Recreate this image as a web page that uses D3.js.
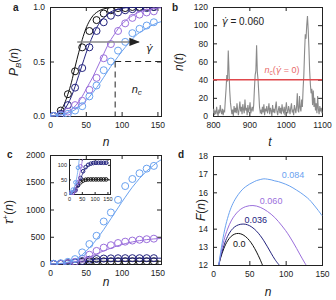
<!doctype html>
<html>
<head>
<meta charset="utf-8">
<script src="https://cdn.jsdelivr.net/npm/d3@7"></script>
<style>
body { margin: 0; background: #fff; }
text { font-family: "Liberation Sans", Arial, sans-serif; fill: #222; }
.gd { font-family: "DejaVu Sans", sans-serif; }
</style>
</head>
<body>
<svg width="336" height="300"></svg>
<script>
// ---- data ----
var nGrid = [0,5,10,15,20,25,30,35,40,45,50,55,60,65,70,75,80,85,90,95,100,105,110,115,120,125,130,135,140,145,150,155];
var nDots = [5,15,25,35,45,55,65,75,85,95,105,115,125,135,145];

// panel a: P_B(n)
var pFitBlack  = [0,0.003,0.015,0.05,0.11,0.2,0.31,0.45,0.58,0.7,0.8,0.87,0.92,0.95,0.97,0.983,0.99,0.995,0.997,0.998,0.999,1,1,1,1,1,1,1,1,1,1,1];
var pFitNavy   = [0,0.002,0.01,0.03,0.06,0.11,0.18,0.27,0.37,0.47,0.57,0.66,0.74,0.81,0.86,0.9,0.93,0.955,0.97,0.98,0.987,0.992,0.995,0.997,0.998,0.999,1,1,1,1,1,1];
var pFitPurple = [0,0.001,0.004,0.01,0.02,0.035,0.06,0.09,0.13,0.18,0.24,0.3,0.36,0.43,0.5,0.57,0.64,0.7,0.75,0.8,0.84,0.87,0.9,0.92,0.94,0.955,0.965,0.975,0.98,0.985,0.99,0.992];
var pFitBlue   = [0,0.001,0.004,0.009,0.016,0.026,0.04,0.058,0.08,0.107,0.14,0.175,0.215,0.26,0.305,0.355,0.405,0.455,0.5,0.545,0.59,0.63,0.67,0.705,0.74,0.765,0.785,0.805,0.825,0.84,0.855,0.865];
var pDotBlack  = [0,0.05,0.2,0.41,0.63,0.78,0.88,0.94,0.97,0.99,0.99,1,1,1,1];
var pDotNavy   = [0,0.02,0.1,0.26,0.44,0.63,0.78,0.86,0.92,0.95,0.97,0.98,0.99,0.99,1];
var pDotPurple = [0,0.01,0.04,0.1,0.14,0.24,0.35,0.53,0.66,0.78,0.85,0.9,0.93,0.95,0.96];
var pDotBlue   = [0,0.005,0.02,0.05,0.09,0.18,0.28,0.42,0.5,0.6,0.68,0.76,0.8,0.83,0.86];

// panel b: n(t), t = 800..1100 every 2
var tStart = 800, tStep = 2;
var nOfT = [3,8,1,6,2,10,4,0,7,3,12,5,2,8,1,6,
  5,18,30,45,38,72,50,28,15,8,
  2,7,0,11,4,9,3,14,6,1,8,16,5,10,2,13,7,3,18,6,9,1,12,4,8,15,3,7,10,5,
  12,30,45,50,78,48,40,25,10,4,
  6,2,10,4,13,1,8,5,11,3,7,14,2,9,6,0,12,4,8,3,10,16,5,1,7,11,3,9,2,13,6,4,10,1,8,15,5,3,11,7,2,9,14,4,6,1,12,8,3,10,25,6,4,22,9,
  5,18,10,30,45,70,90,85,100,110,95,75,50,35,25,30,12,28,10,20,
  6,14,3,22,8,2,11,5,9,3];
var ncZero = 40;

// panel c: tau+(n)
var tFitBlack  = [0,0.5,2,5,10,16,23,30,36,41,45,47.5,49,50,50,50,50,50,50,50,50,50,50,50,50,50,50,50,50,50,50,50];
var tFitNavy   = [0,0,1,3,7,12,20,29,40,52,63,73,82,89,94,98,101,103,104.5,105.5,106,106.5,106.5,106.5,106.5,106.5,106.5,106.5,106.5,106.5,106.5,106.5];
var tFitPurple = [0,1,3,6,12,20,31,45,62,82,105,130,157,185,213,240,266,291,314,336,356,374,390,405,418,429,439,447,454,460,465,469];
var tFitBlue   = [0,2,5,12,22,36,55,82,120,170,230,298,370,450,540,632,730,830,930,1030,1130,1225,1320,1410,1490,1570,1640,1705,1760,1815,1870,1910];
var tDotBlack  = [0,4,15,30,40,46,49,50,50,50,50,50,50,50,50];
var tDotNavy   = [0,3,12,30,55,78,92,100,104,106,107,107,107,107,107];
var tDotPurple = [0,4,15,40,95,170,240,300,345,385,410,430,445,455,465];
var tDotBlue   = [5,15,40,90,213,366,518,780,945,1177,1430,1560,1665,1750,1800];

// panel d: F(n)
var fNBlack = [8,10,15,20,25,30,35,40,45,50,55,60,65,68];
var fBlack  = [12,12.35,12.95,13.35,13.6,13.72,13.75,13.7,13.57,13.37,13.08,12.72,12.3,12];
var fNNavy  = [8,10,15,20,25,30,35,40,45,50,55,60,65,70,75,80,85,90,91];
var fNavy   = [12,12.4,13.1,13.6,13.92,14.12,14.22,14.26,14.25,14.18,14.05,13.87,13.63,13.34,13,12.65,12.3,12.05,12];
var fNPurple = [8,10,15,20,25,30,35,40,45,50,55,60,65,70,75,80,85,90,95,100,105,110,115,120,125,128];
var fPurple  = [12,12.5,13.4,14,14.45,14.75,14.98,15.13,15.22,15.27,15.28,15.25,15.18,15.08,14.95,14.8,14.62,14.4,14.15,13.9,13.6,13.27,12.92,12.55,12.2,12];
var fNBlue = [8,10,15,20,25,30,35,40,45,50,55,60,65,70,75,80,85,90,95,100,105,110,115,120,125,130,135,140,145,150];
var fBlue  = [12,12.6,13.8,14.6,15.2,15.6,15.9,16.15,16.32,16.45,16.55,16.66,16.7,16.76,16.72,16.7,16.62,16.6,16.52,16.45,16.36,16.25,16.12,16.0,15.85,15.7,15.5,15.25,15.0,14.72];
var dLabels = ["0.0", "0.036", "0.060", "0.084"];

var cBlack = "#111111", cNavy = "#23237e", cPurple = "#9b6fdc", cBlue = "#6aa2f0";

var svg = d3.select("svg");
var intFmt = d3.format("d");

function panel(x, y, xt, yt, xf, yf, fs) {
    var g = svg.append("g");
    var x0 = x.range()[0], x1 = x.range()[1], y0 = y.range()[0], y1 = y.range()[1];
    fs = fs || 8.5;
    g.append("rect").attr("x", x0 + 0.5).attr("y", y1 + 0.5)
        .attr("width", x1 - x0).attr("height", y0 - y1)
        .attr("fill", "#fff").attr("stroke", "#222");
    var ax = [
        g.append("g").attr("transform", "translate(0," + y0 + ")")
            .call(d3.axisBottom(x).tickValues(xt).tickSizeInner(-4).tickSizeOuter(0).tickPadding(6).tickFormat(xf || intFmt)),
        g.append("g").attr("transform", "translate(0," + y1 + ")")
            .call(d3.axisTop(x).tickValues(xt).tickSizeInner(-4).tickSizeOuter(0).tickFormat("")),
        g.append("g").attr("transform", "translate(" + x0 + ",0)")
            .call(d3.axisLeft(y).tickValues(yt).tickSizeInner(-4).tickSizeOuter(0).tickPadding(5).tickFormat(yf || intFmt)),
        g.append("g").attr("transform", "translate(" + x1 + ",0)")
            .call(d3.axisRight(y).tickValues(yt).tickSizeInner(-4).tickSizeOuter(0).tickFormat(""))
    ];
    ax.forEach(function(a) {
        a.select(".domain").remove();
        a.selectAll(".tick line").attr("stroke", "#222");
        a.selectAll(".tick text").attr("font-size", fs).style("fill", "#222");
    });
    return g;
}

function clip(id, x, y) {
    svg.append("clipPath").attr("id", id).append("rect")
        .attr("x", x.range()[0]).attr("y", y.range()[1])
        .attr("width", x.range()[1] - x.range()[0] + 1).attr("height", y.range()[0] - y.range()[1] + 1);
}

function curve(g, x, y, xs, ys, col, w) {
    g.append("path").datum(xs.map(function(d, i) { return [d, ys[i]]; }))
        .attr("fill", "none").attr("stroke", col).attr("stroke-width", w || 1)
        .attr("d", d3.line().x(function(d) { return x(d[0]); }).y(function(d) { return y(d[1]); }).curve(d3.curveMonotoneX));
}

function dots(g, x, y, xs, ys, col, r) {
    g.selectAll(null).data(xs).enter().append("circle")
        .attr("cx", function(d) { return x(d); })
        .attr("cy", function(d, i) { return y(ys[i]); })
        .attr("r", r || 3.5)
        .attr("fill", "none").attr("stroke", col).attr("stroke-width", 1);
}

function label(txt, x, y) {
    svg.append("text").attr("x", x).attr("y", y).attr("font-size", 10)
        .attr("font-weight", "bold").text(txt);
}

function ylab(html, x, y) {
    svg.append("text").attr("transform", "translate(" + x + "," + y + ") rotate(-90)")
        .attr("text-anchor", "middle").attr("font-size", 12).html(html);
}

function xlab(html, x, y) {
    svg.append("text").attr("x", x).attr("y", y).attr("text-anchor", "middle")
        .attr("font-size", 12).attr("font-style", "italic").html(html);
}

var gdot = '<tspan class="gd" font-style="italic">\u03b3\u0307</tspan>';

// ---------- a ----------
var xa = d3.scaleLinear().domain([0, 155]).range([50, 161]);
var ya = d3.scaleLinear().domain([0, 1]).range([116, 7]);
var ga = panel(xa, ya, [0, 50, 100, 150], [0, 0.5, 1], null, d3.format(".1f"));
clip("ca", xa, ya);
var pa = ga.append("g").attr("clip-path", "url(#ca)");
[[pFitBlack, pDotBlack, cBlack], [pFitNavy, pDotNavy, cNavy], [pFitPurple, pDotPurple, cPurple], [pFitBlue, pDotBlue, cBlue]]
    .forEach(function(s) {
        curve(pa, xa, ya, nGrid, s[0], s[2]);
        dots(pa, xa, ya, nDots, s[1], s[2]);
    });
pa.append("line").attr("x1", xa(91)).attr("x2", xa(155)).attr("y1", ya(0.5)).attr("y2", ya(0.5))
    .attr("stroke", "#222").attr("stroke-dasharray", "6,4");
pa.append("line").attr("x1", xa(91)).attr("x2", xa(91)).attr("y1", ya(0.5)).attr("y2", ya(0))
    .attr("stroke", "#222").attr("stroke-dasharray", "6,4");
svg.append("defs").append("marker").attr("id", "arr").attr("viewBox", "0 0 10 10")
    .attr("refX", 9).attr("refY", 5).attr("markerWidth", 7).attr("markerHeight", 7).attr("orient", "auto")
    .append("path").attr("d", "M0,1L10,5L0,9Z").attr("fill", "#222");
ga.append("line").attr("x1", xa(38)).attr("x2", xa(124)).attr("y1", ya(0.68)).attr("y2", ya(0.68))
    .attr("stroke", "#888").attr("stroke-width", 1.5).attr("marker-end", "url(#arr)");
svg.append("text").attr("x", 146).attr("y", 52).attr("font-size", 11).html(gdot);
svg.append("text").attr("x", xa(114)).attr("y", ya(0.21)).attr("font-size", 11).attr("font-style", "italic")
    .html('n<tspan font-size="8" dy="2">c</tspan>');
label("a", 13, 11);
ylab('<tspan font-style="italic">P</tspan><tspan font-size="8" dy="3" font-style="italic">B</tspan><tspan dy="-3">(</tspan><tspan font-style="italic">n</tspan>)', 18, 62);
xlab("n", 106, 146);

// ---------- b ----------
var xb = d3.scaleLinear().domain([800, 1100]).range([213, 322]);
var yb = d3.scaleLinear().domain([0, 120]).range([116, 7]);
var gb = panel(xb, yb, [800, 900, 1000, 1100], [0, 20, 40, 60, 80, 100, 120]);
clip("cb", xb, yb);
var pb = gb.append("g").attr("clip-path", "url(#cb)");
pb.append("path").datum(nOfT)
    .attr("fill", "none").attr("stroke", "#8a8a8a").attr("stroke-width", 1.1)
    .attr("d", d3.line().x(function(d, i) { return xb(tStart + i * tStep); }).y(function(d) { return yb(d); }));
pb.append("line").attr("x1", xb(800)).attr("x2", xb(1100)).attr("y1", yb(ncZero)).attr("y2", yb(ncZero))
    .attr("stroke", "#e0484c").attr("stroke-width", 1.5);
svg.append("text").attr("x", xb(990)).attr("y", yb(47)).attr("text-anchor", "middle").attr("font-size", 9)
    .style("fill", "#e86a6a")
    .html('<tspan font-style="italic">n</tspan><tspan font-size="6.5" dy="2">c</tspan><tspan dy="-2">(</tspan>' +
          '<tspan class="gd" font-style="italic">\u03b3\u0307</tspan> = 0)');
svg.append("text").attr("x", xb(824)).attr("y", yb(100)).attr("font-size", 10)
    .html(gdot + ' = 0.060');
label("b", 172, 11);
ylab('<tspan font-style="italic">n</tspan>(<tspan font-style="italic">t</tspan>)', 183, 62);
xlab("t", 270, 146);

// ---------- c ----------
var xc = d3.scaleLinear().domain([0, 155]).range([50, 161]);
var yc = d3.scaleLinear().domain([0, 2000]).range([264, 155]);
var gc = panel(xc, yc, [0, 50, 100, 150], [0, 500, 1000, 1500, 2000]);
clip("cc", xc, yc);
var pc = gc.append("g").attr("clip-path", "url(#cc)");
[[tFitBlack, tDotBlack, cBlack], [tFitNavy, tDotNavy, cNavy], [tFitPurple, tDotPurple, cPurple], [tFitBlue, tDotBlue, cBlue]]
    .forEach(function(s) {
        curve(pc, xc, yc, nGrid, s[0], s[2]);
        dots(pc, xc, yc, nDots, s[1], s[2]);
    });
// inset
var xi = d3.scaleLinear().domain([0, 160]).range([69, 110]);
var yi = d3.scaleLinear().domain([0, 120]).range([194, 159]);
var gi = panel(xi, yi, [0, 50, 100, 150], [0, 50, 100], null, null, 5.5);
gi.selectAll(".tick line").attr("y2", function() { return +d3.select(this).attr("y2") / 2; })
    .attr("x2", function() { return +d3.select(this).attr("x2") / 2; });
gi.selectAll(".tick text").each(function() {
    var t = d3.select(this);
    if (t.attr("y") !== null && +t.attr("y") > 0) t.attr("y", 3);
    if (t.attr("x") !== null && +t.attr("x") < 0) t.attr("x", -2);
});
clip("ci", xi, yi);
var pi = gi.append("g").attr("clip-path", "url(#ci)");
[[tFitBlack, tDotBlack, cBlack], [tFitNavy, tDotNavy, cNavy], [tFitPurple, tDotPurple, cPurple], [tFitBlue, tDotBlue, cBlue]]
    .forEach(function(s) {
        curve(pi, xi, yi, nGrid, s[0], s[2], 0.8);
        dots(pi, xi, yi, nDots, s[1], s[2], 1.8);
    });
label("c", 7, 158);
ylab('<tspan font-style="italic">\u03c4</tspan><tspan font-size="8" dy="-5">+</tspan><tspan dy="5">(</tspan><tspan font-style="italic">n</tspan>)', 13, 212);
xlab("n", 106, 286);

// ---------- d ----------
var xd = d3.scaleLinear().domain([0, 150]).range([213, 322]);
var yd = d3.scaleLinear().domain([12, 18]).range([265, 156]);
var gd = panel(xd, yd, [0, 50, 100, 150], [12, 13, 14, 16, 17, 18]);
clip("cd", xd, yd);
var pd = gd.append("g").attr("clip-path", "url(#cd)");
var dSeries = [[fNBlack, fBlack, cBlack], [fNNavy, fNavy, cNavy], [fNPurple, fPurple, cPurple], [fNBlue, fBlue, cBlue]];
var dPos = [[36, 13.15], [59, 14.48], [80, 15.52], [110, 16.95]];
dSeries.forEach(function(s, i) {
    pd.append("path").datum(s[0].map(function(d, j) { return [d, s[1][j]]; }))
        .attr("fill", "none").attr("stroke", s[2]).attr("stroke-width", 1)
        .attr("d", d3.line().x(function(d) { return xd(d[0]); }).y(function(d) { return yd(d[1]); }).curve(d3.curveBasis));
    svg.append("text").attr("x", xd(dPos[i][0])).attr("y", yd(dPos[i][1])).attr("dy", "0.35em")
        .attr("text-anchor", "middle").attr("font-size", 9).style("fill", s[2]).text(dLabels[i]);
});
label("d", 178, 158);
ylab('<tspan font-style="italic">F</tspan>(<tspan font-style="italic">n</tspan>)', 205, 210);
xlab("n", 268, 296);
</script>
</body>
</html>
